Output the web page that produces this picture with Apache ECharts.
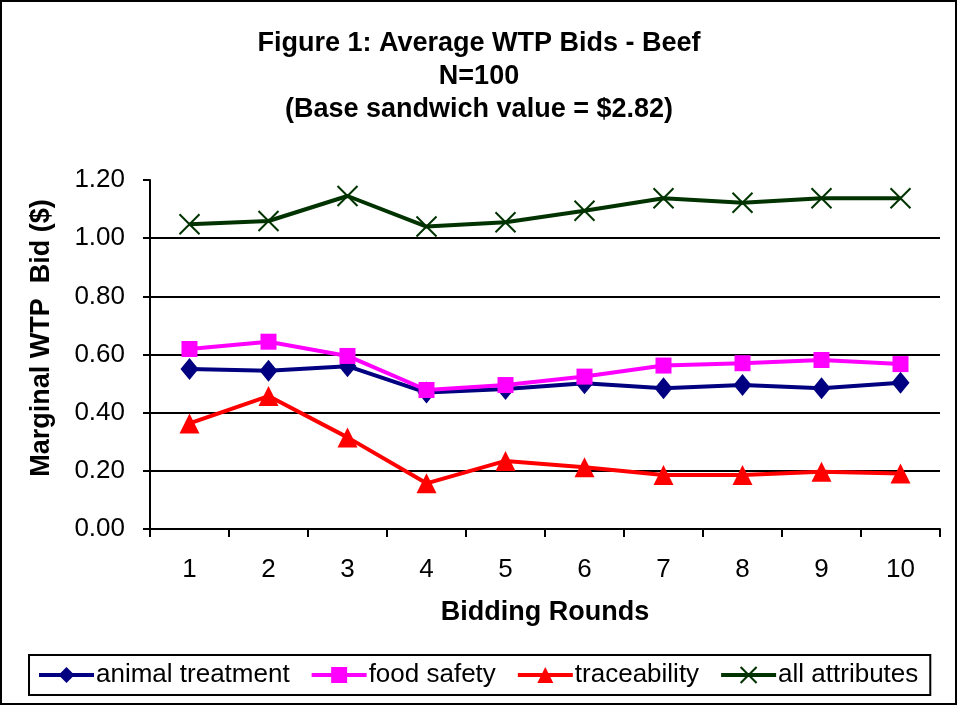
<!DOCTYPE html>
<html>
<head>
<meta charset="utf-8">
<script src="https://cdn.jsdelivr.net/npm/echarts@6/dist/echarts.min.js"></script>
<style>
    html, body { margin: 0; padding: 0; background: #fff; }
    #chart { width: 958px; height: 706px; }
</style>
</head>
<body>
<div id="chart"></div>
<script>
    // data
    var rounds = ['1', '2', '3', '4', '5', '6', '7', '8', '9', '10'];
    var animalTreatment = [0.550, 0.544, 0.560, 0.469, 0.481, 0.501, 0.484, 0.495, 0.484, 0.503];
    var foodSafety = [0.619, 0.644, 0.595, 0.478, 0.495, 0.524, 0.562, 0.570, 0.581, 0.567];
    var traceability = [0.363, 0.457, 0.315, 0.157, 0.234, 0.212, 0.186, 0.186, 0.197, 0.191];
    var allAttributes = [1.048, 1.059, 1.145, 1.040, 1.055, 1.094, 1.137, 1.122, 1.137, 1.137];
    var yTicks = [0, 0.2, 0.4, 0.6, 0.8, 1.0, 1.2];

    var font = "'Liberation Sans', Arial, sans-serif";

    var myChart = echarts.init(document.getElementById('chart'));

    function lineSeries(name, data, color, symbol, size, extra) {
        var s = {
            name: name,
            type: 'line',
            data: data,
            symbol: symbol,
            symbolSize: size,
            showSymbol: true,
            lineStyle: { color: color, width: 4 },
            itemStyle: { color: color },
            emphasis: { disabled: true }
        };
        if (extra) {
            Object.assign(s.itemStyle, extra);
        }
        return s;
    }

    myChart.setOption({
        animation: false,
        textStyle: { fontFamily: font },
        title: {
            text: 'Figure 1: Average WTP Bids - Beef\nN=100\n(Base sandwich value = $2.82)',
            left: 'center',
            top: 22,
            textStyle: {
                fontFamily: font,
                fontWeight: 'bold',
                fontSize: 27,
                lineHeight: 33,
                color: '#000'
            }
        },
        legend: {
            left: 29,
            top: 655,
            data: ['animal treatment', 'food safety', 'traceability', 'all attributes'],
            itemWidth: 55,
            itemHeight: 20,
            itemGap: 20,
            padding: [5, 12, 5, 8],
            borderColor: '#000',
            borderWidth: 2,
            lineStyle: { width: 4 },
            textStyle: { fontFamily: font, fontSize: 26, color: '#000', lineHeight: 30, padding: [0, 0, 0, -3] }
        },
        grid: {
            left: 150,
            right: 18,
            top: 180,
            bottom: 177
        },
        xAxis: {
            type: 'category',
            data: rounds,
            boundaryGap: true,
            name: 'Bidding Rounds',
            nameLocation: 'middle',
            nameGap: 70,
            nameTextStyle: { fontFamily: font, fontWeight: 'bold', fontSize: 27, color: '#000' },
            axisLine: { lineStyle: { color: '#000', width: 2 } },
            axisTick: { show: true, length: 8, lineStyle: { color: '#000', width: 2 } },
            axisLabel: { margin: 28, fontSize: 26, color: '#000', fontFamily: font },
            splitLine: { show: false }
        },
        yAxis: {
            type: 'value',
            min: 0,
            max: 1.2,
            interval: 0.2,
            axisLine: { show: true, lineStyle: { color: '#000', width: 2 } },
            axisTick: { show: true, length: 7, lineStyle: { color: '#000', width: 2 } },
            axisLabel: {
                margin: 25,
                fontSize: 26,
                color: '#000',
                fontFamily: font,
                formatter: function (v) { return v.toFixed(2); }
            },
            splitLine: {
                show: true,
                // no gridline drawn at the top value
                lineStyle: { color: yTicks.map(function (t, i) { return i === yTicks.length - 1 ? 'transparent' : '#000'; }), width: 2 }
            }
        },
        graphic: [
            {
                type: 'rect',
                shape: { x: 1, y: 1, width: 955, height: 703 },
                style: { fill: 'none', stroke: '#000', lineWidth: 2 },
                silent: true
            },
            {
                type: 'text',
                x: 42,
                y: 338,
                rotation: Math.PI / 2,
                style: {
                    text: 'Marginal WTP  Bid ($)',
                    fontFamily: font,
                    fontWeight: 'bold',
                    fontSize: 27,
                    fill: '#000',
                    align: 'center',
                    verticalAlign: 'middle'
                }
            }
        ],
        series: [
            lineSeries('animal treatment', animalTreatment, '#000080', 'diamond', [18, 22]),
            lineSeries('food safety', foodSafety, '#FF00FF', 'rect', 16),
            lineSeries('traceability', traceability, '#FF0000', 'triangle', 20),
            lineSeries('all attributes', allAttributes, '#003300', 'path://M0,0L10,10M10,0L0,10', 20,
                { borderColor: '#003300', borderWidth: 2 })
        ]
    });
</script>
</body>
</html>
